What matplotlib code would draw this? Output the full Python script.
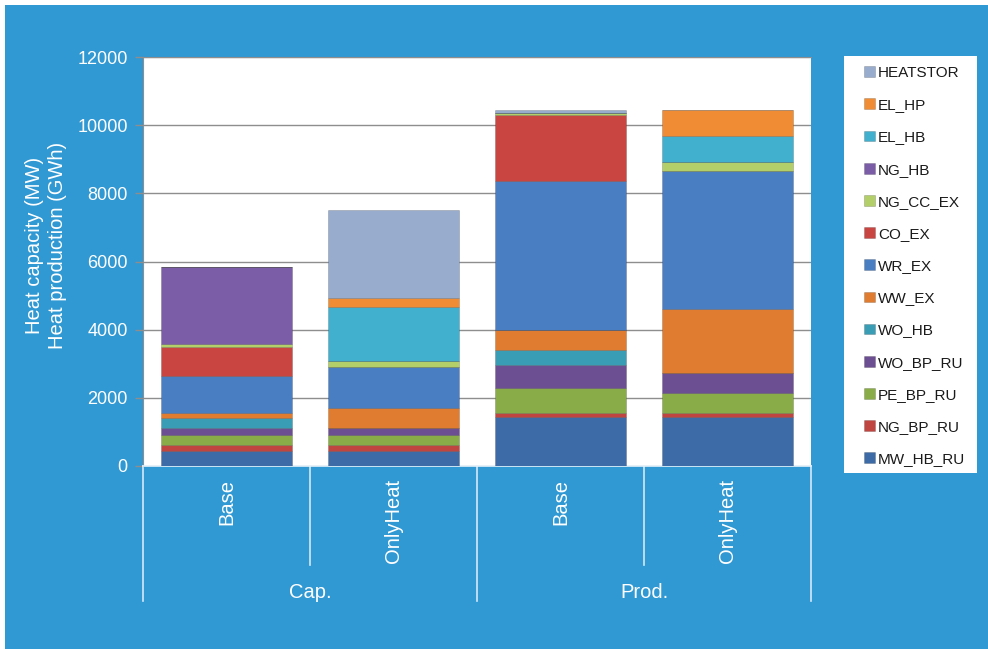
import matplotlib
matplotlib.use("Agg")
import matplotlib.pyplot as plt
from matplotlib.patches import Rectangle, Patch
import numpy as np

plt.rcParams['font.family'] = ['Liberation Sans', 'DejaVu Sans']

# data
inner_labels = ["Base", "OnlyHeat", "Base", "OnlyHeat"]
outer_labels = ["Cap.", "Prod."]

series_names = ["MW_HB_RU", "NG_BP_RU", "PE_BP_RU", "WO_BP_RU", "WO_HB", "WW_EX",
                "WR_EX", "CO_EX", "NG_CC_EX", "NG_HB", "EL_HB", "EL_HP", "HEATSTOR"]

MW_HB_RU = [450, 450, 1430, 1430]
NG_BP_RU = [180, 175, 130, 130]
PE_BP_RU = [270, 270, 730, 585]
WO_BP_RU = [215, 215, 685, 585]
WO_HB = [290, 0, 440, 0]
WW_EX = [150, 585, 585, 1875]
WR_EX = [1090, 1220, 4360, 4060]
CO_EX = [840, 0, 1930, 0]
NG_CC_EX = [90, 165, 70, 245]
NG_HB = [2250, 0, 0, 0]
EL_HB = [0, 1590, 0, 770]
EL_HP = [0, 245, 0, 760]
HEATSTOR = [0, 2585, 80, 0]

series_values = [MW_HB_RU, NG_BP_RU, PE_BP_RU, WO_BP_RU, WO_HB, WW_EX,
                 WR_EX, CO_EX, NG_CC_EX, NG_HB, EL_HB, EL_HP, HEATSTOR]

colors = ['#3d6ba8', '#c0443f', '#8aac48', '#6b4f92', '#3a9db6', '#e07c2f',
          '#4a7ec2', '#c94541', '#b3cf6a', '#7b5da7', '#41afce', '#f08c33', '#98adcd']

bg = '#3098d3'

fig = plt.figure(figsize=(9.88, 6.49), dpi=100, facecolor=bg)
# thin white strip on top and left edge
fig.patches.append(Rectangle((0, 1 - 5 / 649), 1, 5 / 649, transform=fig.transFigure,
                             facecolor='white', edgecolor='none', zorder=0))
fig.patches.append(Rectangle((0, 0), 5 / 988, 1, transform=fig.transFigure,
                             facecolor='white', edgecolor='none', zorder=0))

ax = fig.add_axes([143 / 988, 1 - 466 / 649, (811 - 143) / 988, (466 - 57) / 649])
ax.set_facecolor('white')

x = np.arange(len(inner_labels))
bottom = np.zeros(len(x))
for name, vals, c in zip(series_names, series_values, colors):
    vals = np.array(vals, dtype=float)
    ax.bar(x, vals, width=0.785, bottom=bottom, color=c, label=name,
           edgecolor='#00000030', linewidth=0.6, zorder=3)
    bottom += vals

ax.set_xlim(-0.5, len(x) - 0.5)
ax.set_ylim(0, 12000)
ax.set_yticks(np.arange(0, 12001, 2000))
ax.yaxis.grid(True, color='#8e8e8e', linewidth=1)
ax.set_axisbelow(True)
ax.tick_params(axis='y', colors='#8e8e8e', length=6, width=1, direction='out',
               labelcolor='white', labelsize=13, pad=5)
ax.set_xticks([])
ax.spines['right'].set_visible(False)
ax.spines['top'].set_color('#8e8e8e')
ax.spines['left'].set_color('#8e8e8e')
ax.spines['bottom'].set_color('#e6f2fa')
ax.spines['bottom'].set_linewidth(1.2)

# multi level category axis
trans = ax.get_xaxis_transform()
line_c = '#d5e9f6'
ah = 466 - 57
for xb in [-0.5, 1.5, 3.5]:
    ax.plot([xb, xb], [0, -(601 - 466) / ah], color=line_c, lw=1.2, transform=trans, clip_on=False)
for xb in [0.5, 2.5]:
    ax.plot([xb, xb], [0, -(565 - 466) / ah], color=line_c, lw=1.2, transform=trans, clip_on=False)
for xi, lab in zip(x, inner_labels):
    ax.text(xi, -(479 - 466) / ah, lab, transform=trans, rotation=90, ha='center', va='top',
            color='white', fontsize=14.5)
for gi, lab in enumerate(outer_labels):
    ax.text(gi * 2 + 0.5, -(592 - 466) / ah, lab, transform=trans, ha='center', va='center',
            color='white', fontsize=14.5)

# y label, two lines
fig.text(46 / 988, 1 - 245 / 649, "Heat capacity (MW)\nHeat production (GWh)", rotation=90,
         ha='center', va='center', color='white', fontsize=14.5, linespacing=1.25)

# legend
fig.patches.append(Rectangle((844 / 988, 1 - 473 / 649), (977 - 844) / 988, (473 - 56) / 649,
                             transform=fig.transFigure, facecolor='white', edgecolor='none', zorder=1))
handles = [Patch(facecolor=c, edgecolor='#00000030', linewidth=0.6) for c in colors][::-1]
leg = fig.legend(handles, series_names[::-1], loc='upper left',
                 bbox_to_anchor=(864 / 988, 1 - 66 / 649), frameon=False,
                 fontsize=11, handlelength=0.7, handleheight=0.7, handletextpad=0.2,
                 labelspacing=1.19, borderpad=0, borderaxespad=0)
leg.set_zorder(5)
for t in leg.get_texts():
    t.set_color('#1a1a1a')

fig.savefig('out.png', dpi=100, facecolor=bg)
